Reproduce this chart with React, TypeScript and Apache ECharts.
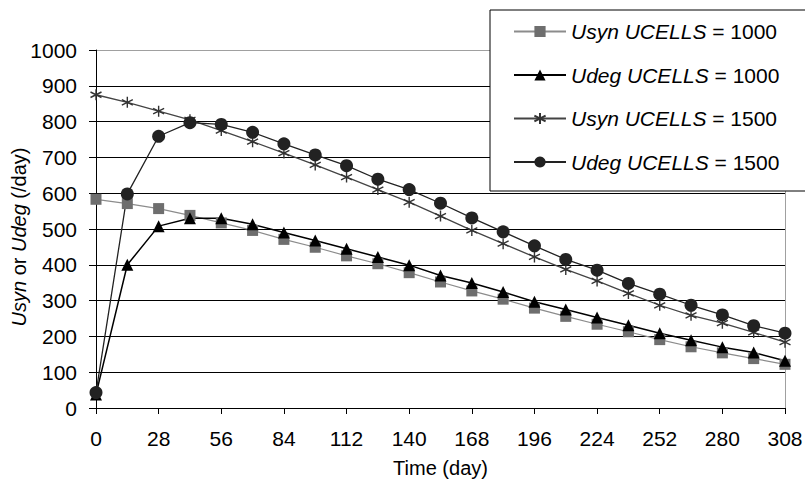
import React, { useEffect, useRef } from "react";
import * as echarts from "echarts";

const days = [0, 14, 28, 42, 56, 70, 84, 98, 112, 126, 140, 154, 168, 182, 196, 210, 224, 238, 252, 266, 280, 294, 308];
const usyn1000 = [583, 571, 557, 538, 517, 496, 471, 449, 425, 403, 378, 352, 327, 304, 279, 256, 234, 213, 191, 171, 154, 138, 122];
const udeg1000 = [38, 400, 508, 530, 530, 513, 490, 468, 445, 422, 399, 370, 349, 324, 297, 275, 253, 231, 209, 189, 170, 155, 132];
const usyn1500 = [875, 854, 829, 805, 775, 744, 712, 679, 645, 610, 575, 536, 496, 459, 422, 387, 355, 320, 287, 259, 237, 211, 184];
const udeg1500 = [43, 598, 759, 797, 792, 770, 738, 707, 677, 639, 610, 572, 531, 492, 453, 415, 385, 348, 318, 287, 260, 230, 209];

const seriesNames = ["Usyn UCELLS = 1000", "Udeg UCELLS = 1000", "Usyn UCELLS = 1500", "Udeg UCELLS = 1500"];
const xTicks = { min: 0, max: 308, interval: 28 };
const yTicks = { min: 0, max: 1000, interval: 100 };

const FONT = "'Liberation Sans', Arial, sans-serif";
const FS = 21;
const STAR = "path://M0,-5L0,5M-4.33,-2.5L4.33,2.5M-4.33,2.5L4.33,-2.5";

export default function App() {
  const ref = useRef<HTMLDivElement>(null);
  useEffect(() => {
    if (!ref.current) return;
    const chart = echarts.init(ref.current, undefined, { renderer: "svg" });
    const pair = (vals: number[]) => days.map((d, i) => [d, vals[i]]);
    const splitColors = Array.from({ length: 11 }, (_, i) => (i === 10 ? "#a0a0a0" : "#000"));
    chart.setOption({
      animation: false,
      backgroundColor: "#fff",
      textStyle: { fontFamily: FONT },
      grid: { left: 96, right: 20, top: 50, bottom: 71, containLabel: false, outerBoundsMode: "none" },
      xAxis: {
        type: "value",
        min: xTicks.min,
        max: xTicks.max,
        interval: xTicks.interval,
        name: "Time (day)",
        nameLocation: "middle",
        nameGap: 50,
        nameMoveOverlap: false,
        nameTextStyle: { fontSize: FS - 1, color: "#000", fontFamily: FONT },
        axisLine: { show: true, lineStyle: { color: "#000", width: 1 } },
        axisTick: { show: true, length: 6, lineStyle: { color: "#000" } },
        axisLabel: { fontSize: FS, color: "#000", margin: 20, fontFamily: FONT, formatter: (v: number) => String(v) },
        splitLine: { show: false },
      },
      yAxis: [
        {
          type: "value",
          min: yTicks.min,
          max: yTicks.max,
          interval: yTicks.interval,
          name: "{i|Usyn} or {i|Udeg} (/day)",
          nameLocation: "middle",
          nameGap: 67,
          nameMoveOverlap: false,
          nameTextStyle: {
            fontSize: FS - 1,
            color: "#000",
            fontFamily: FONT,
            padding: [0, 16, 0, 0],
            rich: { i: { fontStyle: "italic", fontSize: FS - 1, color: "#000", fontFamily: FONT } },
          },
          axisLine: { show: true, lineStyle: { color: "#000", width: 1 } },
          axisTick: { show: true, length: 7, lineStyle: { color: "#000" } },
          axisLabel: { fontSize: FS, color: "#000", margin: 19, fontFamily: FONT, formatter: (v: number) => String(v) },
          splitLine: { show: true, lineStyle: { color: splitColors, width: 1 } },
        },
        {
          type: "value",
          position: "right",
          min: yTicks.min,
          max: yTicks.max,
          interval: yTicks.interval,
          axisLine: { show: true, lineStyle: { color: "#a0a0a0", width: 1 } },
          axisTick: { show: false },
          axisLabel: { show: false },
          splitLine: { show: false },
        },
      ],
      graphic: [
        {
          type: "rect",
          z: 3,
          shape: { x: 490, y: 10, width: 330, height: 181 },
          style: { fill: "#fff", stroke: "#000", lineWidth: 1 },
        },
      ],
      legend: {
        orient: "vertical",
        left: 508,
        top: 16,
        z: 4,
        itemWidth: 52,
        itemHeight: 14,
        itemGap: 22.5,
        data: seriesNames,
        formatter: (name: string) => {
          const parts = name.split(" = ");
          return "{i|" + parts[0] + "} = " + parts[1];
        },
        textStyle: {
          fontSize: FS,
          color: "#000",
          fontFamily: FONT,
          rich: { i: { fontStyle: "italic", fontSize: FS, color: "#000", fontFamily: FONT } },
        },
      },
      series: [
        {
          name: seriesNames[0],
          type: "line",
          data: pair(usyn1000),
          symbol: "rect",
          symbolSize: 11,
          itemStyle: { color: "#6e6e6e" },
          lineStyle: { color: "#8c8c8c", width: 1.2 },
        },
        {
          name: seriesNames[1],
          type: "line",
          data: pair(udeg1000),
          symbol: "triangle",
          symbolSize: 12,
          itemStyle: { color: "#000" },
          lineStyle: { color: "#000", width: 1.5 },
        },
        {
          name: seriesNames[2],
          type: "line",
          data: pair(usyn1500),
          symbol: STAR,
          symbolSize: 11,
          itemStyle: { color: "rgba(0,0,0,0)", borderColor: "#333", borderWidth: 1.4 },
          lineStyle: { color: "#444", width: 1.3 },
        },
        {
          name: seriesNames[3],
          type: "line",
          data: pair(udeg1500),
          symbol: "circle",
          symbolSize: 13,
          itemStyle: { color: "#222" },
          lineStyle: { color: "#222", width: 1.3 },
        },
      ],
    });
    return () => chart.dispose();
  }, []);
  return <div ref={ref} style={{ width: 805, height: 479, position: "absolute", left: 0, top: 0 }} />;
}
